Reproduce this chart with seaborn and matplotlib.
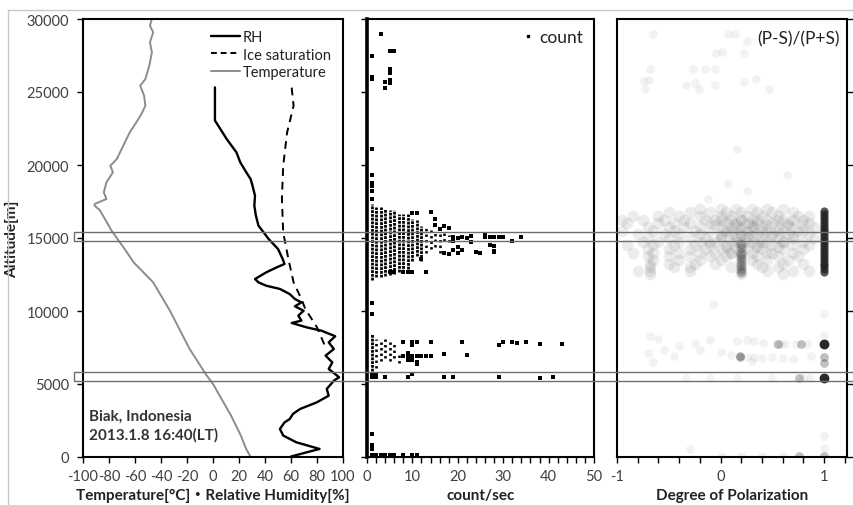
import numpy as np
import pandas as pd
import seaborn as sns
import matplotlib
matplotlib.use("Agg")
import matplotlib.pyplot as plt
from matplotlib.patches import Rectangle
from matplotlib.lines import Line2D
from matplotlib.transforms import blended_transform_factory

# ---------------- sonde profile (left panel) ----------------
temp_alt = [30000, 29540, 29090, 28400, 27720, 26800, 25890, 25430, 24750, 24060, 23500, 22920,
            22240, 21330, 20410, 19950, 19500, 18810, 18130, 17670, 17330, 17210, 16900, 15500,
            14250, 13330, 11960, 10000, 7400, 5600, 5000, 2820, 1450, 550, 0]
temp_val = [-47, -48.5, -46, -48.5, -47, -49, -52, -56, -53, -52, -55, -59,
            -64, -69, -74, -79, -77, -82, -84, -82, -91, -91, -87, -78,
            -68, -61, -46, -33, -18, -5, 0, 14, 21.5, 25.5, 29]

rh_alt = [25320, 23040, 22700, 21780, 20870, 20180, 19500, 19040, 18580, 17900, 17210, 16530,
          15840, 15390, 14930, 14250, 13560, 13220, 12990, 12650, 12190, 11960, 11730, 11510,
          11160, 10820, 10590, 10320, 10020, 9680, 9340, 9180, 8880, 8650, 8270, 7850, 7400,
          6940, 6480, 6030, 5460, 5230, 4660, 4200, 3750, 3290, 2950, 2600, 2370, 1920, 1470,
          1010, 550, 320, 30]
rh_val = [1.5, 1.5, 4, 10.5, 18, 21, 25.6, 28.9, 30.4, 32.3, 31.8, 33,
          35, 38.9, 42.8, 50, 53.6, 55, 49, 41, 32.3, 35, 41, 51.5,
          59, 63, 68, 63, 69.7, 65.6, 68, 60.5, 72, 83.5, 94, 89, 93,
          86.6, 91.8, 89, 97, 93, 87.5, 89, 80, 67, 61.5, 59, 55, 51.5, 54,
          64, 82, 72, 60]

ice_alt = [25300, 24060, 22230, 19950, 17670, 15380, 14250, 13560, 11960, 10820, 10140, 8880, 7630]
ice_val = [60.5, 62, 57, 54, 53, 54, 56.5, 58, 62, 68, 71, 80, 86]

# ---------------- count/sec (middle panel) ----------------
# dense runs of samples: count value, lowest and highest altitude
run_count = [1, 2, 3, 4, 5, 6, 7, 8, 9, 10, 11, 12, 1]
run_lo = [12100, 12300, 12350, 12400, 12450, 12550, 12650, 12700, 12900, 13400, 13750, 13450, 5900]
run_hi = [17350, 17150, 17100, 17000, 16950, 16900, 16650, 16650, 16650, 16300, 16200, 15850, 8420]
# looser runs
loose_count = [13, 14, 15, 16, 17, 18, 2, 3, 4, 5, 6, 7]
loose_lo = [14000, 14250, 14350, 14000, 14800, 14700, 6100, 6600, 6800, 6600, 6800, 6450]
loose_hi = [15700, 15550, 15500, 15400, 15400, 15200, 8050, 7850, 8050, 7950, 7850, 7050]

count_pts = [
    (3, 29000), (1, 27500), (5, 27800), (6, 27800), (5, 26600), (5, 26300), (1, 26000), (1, 25900),
    (4, 25700), (5, 25800), (5, 25600), (4, 25300),
    (1, 21100), (1, 19300), (1, 18800), (1, 18550), (1, 18250), (1, 17700),
    (10, 16700), (11, 16700), (14, 16750), (15, 16300), (15, 15900), (17, 15850), (18, 15700), (16, 15600),
    (19, 15100), (20, 15000), (21, 15050), (22, 15000), (23, 15150), (23, 14700), (26, 15250), (26, 15050),
    (27, 15100), (28, 15050), (29, 15050), (30, 15050), (32, 14800), (34, 15050), (27, 14550), (28, 14450),
    (28, 14100), (20, 14350), (19, 14800), (18, 13900), (17, 14000),
    (24, 14050), (25, 13950), (28, 14050), (19, 14150), (20, 13950), (21, 14200), (17, 13950), (12, 13550),
    (13, 12700), (9, 12650), (10, 12650), (5, 12650), (6, 12650), (8, 12650),
    (1, 10550), (1, 9800),
    (8, 7850), (10, 7850), (11, 7850), (14, 7850), (21, 7850), (29, 7700), (30, 7850), (32, 7850),
    (33, 7800), (35, 7850), (38, 7750), (43, 7750), (10, 7700),
    (8, 6900), (9, 6850), (10, 6900), (11, 6900), (12, 6950), (13, 6950), (14, 6950), (17, 7050),
    (22, 7000), (9, 7100), (9, 6650), (10, 6650), (11, 6400), (11, 6500), (10, 5700),
    (1, 5700), (2, 5600), (1, 5450), (2, 5450), (4, 5450), (9, 5450), (17, 5450), (19, 5480),
    (29, 5450), (38, 5400), (41, 5450),
    (1, 1580), (1, 800), (1, 550), (1, 150), (2, 140), (3, 140), (4, 140), (5, 140), (6, 140),
    (8, 140), (10, 140), (11, 140),
]

# ---------------- degree of polarization (right panel) ----------------
pol_rows = [
    (17000, [-0.2, 0.0, 0.15, 0.3, 0.45, 0.6]),
    (16750, [-0.5, -0.3, -0.1, 0.05, 0.2, 0.35, 0.5, 0.7]),
    (16500, [-0.85, -0.6, -0.4, -0.2, 0.0, 0.1, 0.25, 0.4, 0.55, 0.75, 0.85]),
    (16250, [-0.95, -0.75, -0.55, -0.35, -0.15, -0.05, 0.1, 0.2, 0.3, 0.45, 0.6, 0.8]),
    (16000, [-0.9, -0.6, -0.45, -0.3, -0.1, 0.05, 0.15, 0.25, 0.35, 0.5, 0.65, 0.85]),
    (15750, [-0.7, -0.5, -0.35, -0.2, 0.0, 0.1, 0.2, 0.3, 0.4, 0.55, 0.7, 0.9]),
    (15500, [-0.95, -0.65, -0.45, -0.25, -0.1, 0.05, 0.2, 0.3, 0.45, 0.6, 0.8]),
    (15250, [-0.8, -0.55, -0.4, -0.2, 0.0, 0.1, 0.2, 0.35, 0.5, 0.65, 0.85]),
    (15000, [-0.7, -0.5, -0.3, -0.15, 0.0, 0.15, 0.25, 0.4, 0.55, 0.7, 0.9]),
    (14750, [-0.75, -0.6, -0.4, -0.2, -0.05, 0.1, 0.2, 0.3, 0.45, 0.6, 0.8]),
    (14500, [-0.9, -0.65, -0.45, -0.25, -0.1, 0.05, 0.2, 0.35, 0.5, 0.7, 0.85]),
    (14250, [-0.7, -0.5, -0.3, -0.15, 0.0, 0.15, 0.25, 0.4, 0.6, 0.8]),
    (14000, [-0.85, -0.65, -0.4, -0.2, -0.05, 0.1, 0.2, 0.3, 0.5, 0.7]),
    (13750, [-0.7, -0.5, -0.3, -0.1, 0.05, 0.2, 0.35, 0.55, 0.75]),
    (13500, [-0.65, -0.4, -0.2, 0.0, 0.2, 0.3, 0.45, 0.65]),
    (13250, [-0.68, -0.5, -0.25, -0.05, 0.2, 0.35, 0.6, 0.8]),
    (13000, [-0.68, -0.45, -0.3, 0.1, 0.2, 0.4, 0.55]),
    (12750, [-0.8, -0.68, -0.3, 0.2, 0.45, 0.7, 0.85]),
    (12550, [-0.68, 0.2, 0.6]),
]
# denser core of the cloud (right-of-centre)
pol_core = [
    (16250, [0.0, 0.2, 0.35, 0.55, 0.7]),
    (15875, [-0.05, 0.15, 0.3, 0.45, 0.65, 0.8]),
    (15500, [0.1, 0.25, 0.4, 0.55, 0.75]),
    (15125, [0.0, 0.2, 0.3, 0.5, 0.7]),
    (14750, [-0.1, 0.15, 0.25, 0.4, 0.6]),
    (14375, [0.05, 0.2, 0.35, 0.55]),
    (14000, [0.1, 0.2, 0.45]),
]
pol_bar_alt = [12600, 12750, 12900, 13050, 13200, 13400, 13600, 13800, 14000, 14300, 14600]  # at 0.2
pol_one_alt = [12650, 12850, 13050, 13250, 13450, 13650, 13850, 14050, 14250, 14450, 14650,
               14850, 15050, 15250, 15450, 15650, 15850, 16050, 16250, 16450, 16650, 16850]  # at 1
pol_faint = [
    (-0.65, 28950), (0.07, 28950), (0.14, 28950), (0.25, 28500), (-0.04, 27700), (0.01, 27750),
    (0.23, 27700), (-0.68, 26600), (-0.27, 26600), (-0.15, 26600), (-0.05, 26600), (-0.74, 25750),
    (-0.69, 25850), (-0.73, 25200), (-0.33, 25500), (-0.25, 25650), (-0.21, 25200), (-0.05, 25500),
    (0.23, 25700), (0.34, 25900), (0.47, 25200), (0.16, 21100), (0.07, 18800), (0.25, 18250),
    (0.64, 19300), (-0.12, 17700), (-0.07, 10480), (1.0, 9790), (1.0, 8300), (-0.68, 8300),
    (0.54, 7750), (0.58, 7750), (0.62, 7740), (0.73, 7750), (0.83, 7740), (0.41, 7800),
    (0.16, 7950), (0.25, 8000), (0.32, 7950), (0.25, 6820), (0.32, 6850), (0.4, 6800),
    (0.5, 6850), (0.6, 6800), (0.7, 6700), (0.87, 6900), (-0.7, 7100), (-0.55, 7350),
    (-0.4, 7600), (-0.25, 7800), (-0.1, 8000), (-0.65, 6500), (-0.45, 6900), (-0.2, 7300),
    (0.0, 7200), (-0.6, 8100), (0.1, 7000), (0.3, 6600), (-0.33, 5410), (-0.1, 5410),
    (0.16, 5410), (0.5, 5410), (0.8, 5410), (0.86, 5410), (1.0, 1430), (1.0, 630),
    (-0.3, 550), (0.0, 100), (0.2, 100), (0.4, 100), (0.6, 100),
]
pol_mid = [(1.0, 6820), (1.0, 6420), (0.19, 6850), (0.19, 6900), (0.76, 90), (1.0, 100),
           (0.78, 7750), (0.55, 7750), (0.76, 5410)]
pol_dark = [(1.0, 7740), (1.0, 5410)]

# cloud layers marked across all panels
layer_lo = [14800, 5200]
layer_hi = [15400, 5850]

# ---------------- figure ----------------
sns.set_theme(style="white")
plt.rcParams['font.family'] = ['Lato', 'Noto Sans CJK JP', 'DejaVu Sans']
plt.rcParams['axes.unicode_minus'] = False
tick_color = "#404040"
lab_font = dict(fontweight="bold", fontsize=11, color="#222222")

fig = plt.figure(figsize=(8.54, 5.06), dpi=100)
W, H = 854, 506
bottom, height = (H - 458) / H, 438 / H
ax1 = fig.add_axes([83 / W, bottom, 260 / W, height])
ax2 = fig.add_axes([367 / W, bottom, 227 / W, height])
ax3 = fig.add_axes([617 / W, bottom, 230 / W, height])

# left: temperature / RH / ice saturation
sns.lineplot(x=temp_val, y=temp_alt, sort=False, estimator=None, color="#8c8c8c", lw=1.4, ax=ax1)
sns.lineplot(x=rh_val, y=rh_alt, sort=False, estimator=None, color="black", lw=1.7, ax=ax1)
sns.lineplot(x=ice_val, y=ice_alt, sort=False, estimator=None, color="black", lw=1.4,
             linestyle=(0, (4, 3)), ax=ax1)
ax1.set_xlim(-100, 100)
ax1.set_xticks(np.arange(-100, 101, 20))
handles = [Line2D([], [], color="black", lw=1.7),
           Line2D([], [], color="black", lw=1.4, ls=(0, (3, 2))),
           Line2D([], [], color="#8c8c8c", lw=1.4)]
ax1.legend(handles, ["RH", "Ice saturation", "Temperature"], loc="upper left",
           bbox_to_anchor=(0.45, 1.0), frameon=False, fontsize=10.5, handlelength=2.0,
           handletextpad=0.2, labelspacing=0.25, borderpad=0.25, labelcolor="#222222")
ax1.text(0.025, 0.035, "Biak, Indonesia\n2013.1.8 16:40(LT)", transform=ax1.transAxes,
         fontsize=11, fontweight="bold", color="#333333", va="bottom", linespacing=1.35)
ax1.set_xlabel("Temperature[°C]・Relative Humidity[%]", **lab_font)
ax1.set_ylabel("Altitude[m]", **lab_font)
ax1.yaxis.set_label_coords(-0.245, 0.5)

# middle: count/sec
ax2.vlines(run_count, run_lo, run_hi, colors="black", lw=2.0, linestyles=[(0, (1.0, 0.35))])
ax2.vlines(loose_count, loose_lo, loose_hi, colors="black", lw=1.9, linestyles=[(0, (0.9, 1.2))])
cdf = pd.DataFrame(count_pts, columns=["count", "alt"])
sns.scatterplot(data=cdf, x="count", y="alt", marker="s", s=5, color="black", linewidth=0, ax=ax2)
ax2.set_xlim(0, 50)
ax2.set_xticks(np.arange(0, 51, 10))
ax2.set_xticks(np.arange(0, 51, 2), minor=True)
ax2.set_yticklabels([])
ax2.legend([Line2D([], [], marker="s", ls="", color="black", markersize=1.8)], ["count"],
           loc="upper right", frameon=False, fontsize=12.5, handletextpad=0.1,
           borderaxespad=0.2, handlelength=1.2, labelcolor="#222222")
ax2.set_xlabel("count/sec", **lab_font)
ax2.set_ylabel("")

# right: degree of polarization
cloud = pd.DataFrame([(v, a) for a, vals in pol_rows + pol_core for v in vals], columns=["pol", "alt"])
sns.scatterplot(data=cloud, x="pol", y="alt", s=70, color="#303030", alpha=0.09, linewidth=0, ax=ax3)
sns.scatterplot(x=[0.2] * len(pol_bar_alt), y=pol_bar_alt, s=45, color="#303030", alpha=0.2,
                linewidth=0, ax=ax3)
sns.scatterplot(x=[1.0] * len(pol_one_alt), y=pol_one_alt, s=35, color="#202020", alpha=0.75,
                linewidth=0, ax=ax3)
fdf = pd.DataFrame(pol_faint, columns=["pol", "alt"])
sns.scatterplot(data=fdf, x="pol", y="alt", s=40, color="#303030", alpha=0.06, linewidth=0, ax=ax3)
mdf = pd.DataFrame(pol_mid, columns=["pol", "alt"])
sns.scatterplot(data=mdf, x="pol", y="alt", s=40, color="#303030", alpha=0.3, linewidth=0, ax=ax3)
ddf = pd.DataFrame(pol_dark, columns=["pol", "alt"])
sns.scatterplot(data=ddf, x="pol", y="alt", s=50, color="#111111", alpha=0.9, linewidth=0, ax=ax3)
ax3.set_xlim(-1, 1.22)
ax3.set_xticks([-1, 0, 1])
ax3.set_xticks(np.arange(-1, 1.21, 0.2), minor=True)
ax3.yaxis.tick_right()
ax3.set_yticklabels([])
ax3.text(0.97, 0.975, "(P-S)/(P+S)", transform=ax3.transAxes, ha="right", va="top",
         fontsize=12.5, color="#222222")
ax3.set_xlabel("Degree of Polarization", **lab_font)
ax3.set_ylabel("")

for ax in (ax1, ax2, ax3):
    ax.set_ylim(0, 30000)
    ax.set_yticks(np.arange(0, 30001, 5000))
    for sp in ax.spines.values():
        sp.set_visible(True)
        sp.set_color("black")
        sp.set_linewidth(1.5)
    ax.tick_params(which="both", direction="out", length=4, width=1, color="black",
                   labelcolor=tick_color, labelsize=10.5, pad=5)
    ax.tick_params(axis="x", which="both", bottom=True, top=False)
    ax.xaxis.labelpad = 3
ax1.tick_params(axis="y", left=True, right=False, pad=6)
ax2.tick_params(axis="y", left=True, right=False)
ax3.tick_params(axis="y", left=False, right=True)
ax2.spines["left"].set_linewidth(2.6)

# layer boxes across the whole figure
trans = blended_transform_factory(fig.transFigure, ax1.transData)
for lo, hi in zip(layer_lo, layer_hi):
    fig.add_artist(Rectangle((74 / W, lo), 1.0, hi - lo, transform=trans, fill=False,
                             edgecolor="#6e6e6e", lw=1.0, clip_on=False, zorder=5))

# outer frame
fig.add_artist(Rectangle((8 / W, -0.05), 1.0, (H - 11) / H + 0.05, transform=fig.transFigure,
                         fill=False, edgecolor="#c8c8c8", lw=1.0))

fig.savefig("out.png", dpi=100)
